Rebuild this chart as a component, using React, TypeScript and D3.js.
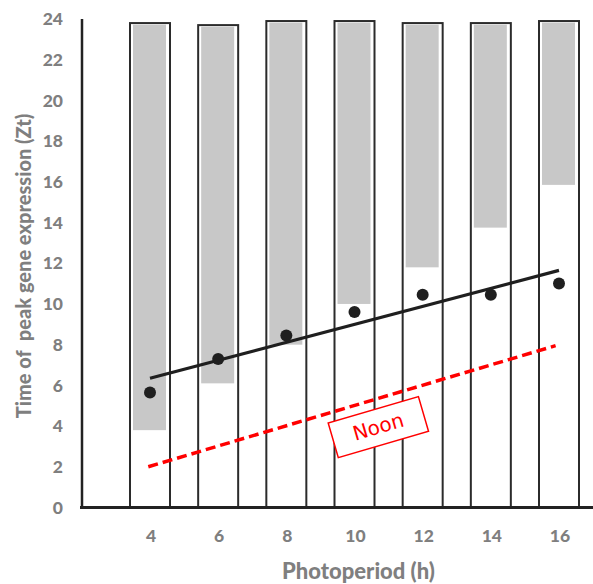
import React from "react";
import * as d3 from "d3";

// Photoperiod categories (h)
const photoperiods = [4, 6, 8, 10, 12, 14, 16];
// Top of each outlined day box (Zt)
const boxTop = [23.8, 23.7, 23.9, 23.9, 23.8, 23.8, 23.9];
// Start of the grey (dark) period inside each box (Zt)
const darkStart = [3.8, 6.1, 8.0, 10.0, 11.8, 13.75, 15.85];
// Observed time of peak gene expression (Zt)
const peakTime = [5.65, 7.3, 8.45, 9.6, 10.45, 10.45, 11.0];
// Fitted trend line end points
const fitLine = [
    { x: 4, y: 6.35 },
    { x: 16, y: 11.65 },
];
// Noon (half of photoperiod)
const noonLine = [
    { x: 3.95, y: 2.0 },
    { x: 15.9, y: 7.95 },
];
const noonLabel = { x: 10.7, y: 3.95, text: "Noon" };
const yTicks = [0, 2, 4, 6, 8, 10, 12, 14, 16, 18, 20, 22, 24];

const W = 593;
const H = 584;
const FONT = "Lato, 'Open Sans', sans-serif";
const GREY_TEXT = "#7f7f7f";

export default function App() {
    const x = d3.scaleLinear().domain([4, 16]).range([150, 559]);
    const y = d3.scaleLinear().domain([0, 24]).range([507.5, 19]);

    const boxW = 40;
    const darkW = 33;

    const line = d3.line<{ x: number; y: number }>()
        .x(d => x(d.x))
        .y(d => y(d.y));

    return (
        <svg
            width={W}
            height={H}
            viewBox={`0 0 ${W} ${H}`}
            style={{ position: "absolute", left: 0, top: 0, display: "block", background: "#fff" }}
        >
            {/* day boxes */}
            <g className="boxes">
                {photoperiods.map((p, i) => (
                    <g key={p}>
                        <rect
                            x={x(p) - boxW / 2}
                            y={y(boxTop[i])}
                            width={boxW}
                            height={y(0) - y(boxTop[i])}
                            fill="#fff"
                            stroke="#2b2b2b"
                            strokeWidth={2}
                        />
                        <rect
                            x={x(p) - darkW / 2 - 0.5}
                            y={y(boxTop[i]) + 1.5}
                            width={darkW}
                            height={y(darkStart[i]) - y(boxTop[i]) - 1.5}
                            fill="#c8c8c8"
                        />
                    </g>
                ))}
            </g>

            {/* noon line */}
            <path
                d={line(noonLine) || ""}
                fill="none"
                stroke="#ff0000"
                strokeWidth={3.5}
                strokeDasharray="10 5"
            />

            {/* noon label */}
            <g transform={`translate(${x(noonLabel.x)},${y(noonLabel.y)}) rotate(-16.3)`}>
                <rect x={-47} y={-18} width={94} height={36} fill="#fff" stroke="#ff0000" strokeWidth={1.5} />
                <text
                    x={0}
                    y={1}
                    textAnchor="middle"
                    dominantBaseline="middle"
                    fontFamily="'DejaVu Sans', sans-serif"
                    fontSize={20}
                    fill="#ff0000"
                >
                    {noonLabel.text}
                </text>
            </g>

            {/* fitted line */}
            <path d={line(fitLine) || ""} fill="none" stroke="#1f1f1f" strokeWidth={3.2} />

            {/* peak points */}
            {photoperiods.map((p, i) => (
                <circle key={p} cx={x(p)} cy={y(peakTime[i])} r={6} fill="#1f1f1f" />
            ))}

            {/* axes */}
            <line x1={82} x2={82} y1={y(24)} y2={y(0)} stroke="#222" strokeWidth={2.5} />
            <line x1={80} x2={W} y1={y(0)} y2={y(0)} stroke="#222" strokeWidth={3} />

            {/* y tick labels */}
            {yTicks.map(t => (
                <text
                    key={t}
                    x={63}
                    y={y(t) + 6.2}
                    textAnchor="end"
                    fontFamily={FONT}
                    fontWeight="900"
                    fontSize={17.5}
                    fill={GREY_TEXT}
                >
                    {t}
                </text>
            ))}

            {/* x tick labels */}
            {photoperiods.map(p => (
                <text
                    key={p}
                    x={x(p) + 1}
                    y={541.5}
                    textAnchor="middle"
                    fontFamily={FONT}
                    fontWeight="900"
                    fontSize={17.5}
                    fill={GREY_TEXT}
                >
                    {p}
                </text>
            ))}

            {/* axis titles */}
            <text
                x={358.5}
                y={578.5}
                textAnchor="middle"
                fontFamily={FONT}
                fontWeight="900"
                fontSize={22}
                fill={GREY_TEXT}
            >
                Photoperiod (h)
            </text>
            <text
                transform={`translate(30.5,266) rotate(-90)`}
                textAnchor="middle"
                fontFamily={FONT}
                fontWeight="900"
                fontSize={20}
                fill={GREY_TEXT}
                style={{ whiteSpace: "pre" }}
            >
                {"Time of  peak gene expression (Zt)"}
            </text>
        </svg>
    );
}
